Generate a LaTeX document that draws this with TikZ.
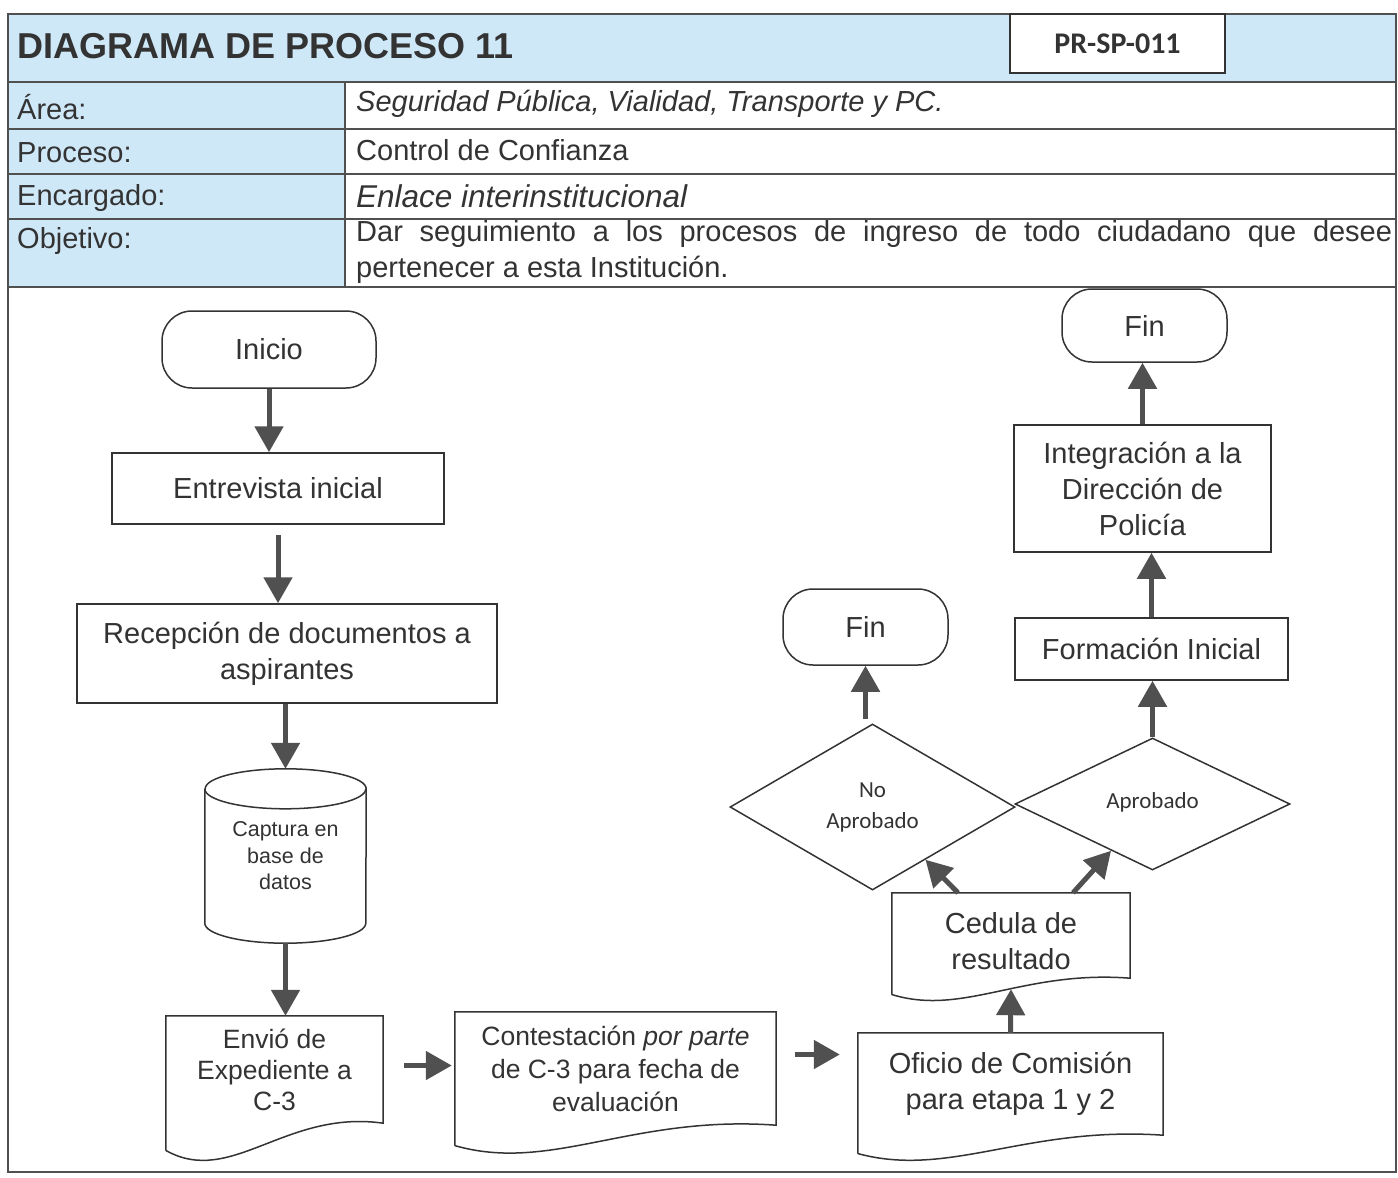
\documentclass[tikz,border=0pt]{standalone}
\usepackage{fontspec}
\setmainfont{Liberation Sans}
\newfontfamily\calib{Carlito}
\usetikzlibrary{shapes.geometric,arrows.meta,calc}
\definecolor{hdrblue}{HTML}{CFE8F8}
\definecolor{ink}{HTML}{333333}
\definecolor{arrgray}{HTML}{505050}
\definecolor{framegray}{HTML}{505050}
\tikzset{
  shapeline/.style={draw=ink, line width=1.5pt},
  tline/.style={draw=framegray, line width=2pt},
  txt/.style={text=ink, inner sep=0pt},
  lbl/.style={txt, anchor=west, font=\fontsize{29}{34}\selectfont},
  procbox/.style={shapeline, text=ink, inner sep=0pt, align=center, font=\fontsize{29}{36}\selectfont},
  termbox/.style={procbox, rounded corners=30pt},
  docbox/.style={text=ink, inner sep=0pt, align=center},
  decis/.style={shapeline, diamond, inner sep=0pt, text=ink, align=center, font=\calib\fontsize{23}{31}\selectfont},
  arr/.style={draw=arrgray, line width=5pt, -{Triangle[width=28pt,length=26pt]}},
}
\newcommand\docshape[2]{%
  \draw[shapeline] ([yshift=-0.68*#2]#1.south west) -- (#1.north west) -- (#1.north east) -- (#1.south east)
  .. controls ($(#1.south west)!0.55!(#1.south east)+(0,0.35*#2)$) and ($(#1.south west)!0.3!(#1.south east)+(0,-1.6*#2)$) .. ([yshift=-0.68*#2]#1.south west);}
\begin{document}
\begin{tikzpicture}[x=1pt,y=-1pt]
\useasboundingbox (0,0) rectangle (1398,1178);
\fill[white] (0,0) rectangle (1398,1178);
% header and table
\fill[hdrblue] (8,14) rectangle (1396,82);
\fill[hdrblue] (8,82) rectangle (345,287);
\foreach \yy in {82,129,174,219,287} {\draw[tline] (8,\yy) -- (1396,\yy);}
\draw[tline] (345,82) -- (345,287);
\draw[tline] (8,14) rectangle (1396,1172);
\node[txt, anchor=west, font=\bfseries\fontsize{36}{40}\selectfont] (title) at (17,46) {DIAGRAMA DE PROCESO 11};
\node[draw=ink, line width=1.5pt, fill=white, minimum width=215, minimum height=59, text=ink, font=\calib\bfseries\fontsize{30}{34}\selectfont] (code) at (1117.5,43.5) {PR-SP-011};
\node[lbl] (larea) at (17,107) {Área:};
\node[lbl] (lproc) at (17,153) {Proceso:};
\node[lbl] (lenc) at (17,198) {Encargado:};
\node[lbl] (lobj) at (17,241) {Objetivo:};
\node[lbl, font=\itshape\fontsize{29}{34}\selectfont] (varea) at (356,104) {Seguridad Pública, Vialidad, Transporte y PC.};
\node[lbl] (vproc) at (356,150) {Control de Confianza};
\node[lbl, font=\itshape\fontsize{31.5}{36}\selectfont] (venc) at (356,196) {Enlace interinstitucional};
\node[lbl] (vobj1) at (356,234) {\hbox to 1036pt{Dar seguimiento a los procesos de ingreso de todo ciudadano que desee}};
\node[lbl] (vobj2) at (356,270) {pertenecer a esta Institución.};
% left column
\node[termbox, minimum width=214, minimum height=77] (inicio) at (269,349.5) {Inicio};
\node[procbox, minimum width=332, minimum height=71] (entre) at (278,488.5) {Entrevista inicial};
\node[procbox, minimum width=420, minimum height=99] (rec) at (287,653.5) {Recepción de documentos a\\aspirantes};
\node[txt, minimum width=161, minimum height=174, align=center, font=\fontsize{21.5}{26.5}\selectfont] (cyl) at (285.5,856) {Captura en\\base de\\datos};
\draw[shapeline] ([yshift=-20pt]cyl.north west) -- ([yshift=20pt]cyl.south west)
  arc[start angle=180, end angle=360, x radius=80.5pt, y radius=20pt]
  -- ([yshift=-20pt]cyl.north east)
  arc[start angle=0, end angle=180, x radius=80.5pt, y radius=20pt];
\draw[shapeline] ([yshift=-20pt]cyl.north west) arc[start angle=180, end angle=360, x radius=80.5pt, y radius=20pt];
\node[docbox, minimum width=217, minimum height=107, font=\fontsize{26.5}{31}\selectfont] (envio) at (274.5,1069.5) {Envió de\\Expediente a\\C-3};
\docshape{envio}{40pt}
\node[docbox, minimum width=321, minimum height=113, font=\fontsize{26.5}{33}\selectfont] (cont) at (615.5,1068.5) {Contestación \textit{por parte}\\de C-3 para fecha de\\evaluación};
\docshape{cont}{30pt}
\node[docbox, minimum width=305, minimum height=102, font=\fontsize{29}{36}\selectfont] (ofi) at (1010.5,1084) {Oficio de Comisión\\para etapa 1 y 2};
\docshape{ofi}{27pt}
\node[docbox, minimum width=238, minimum height=85, font=\fontsize{29}{36}\selectfont] (ced) at (1011,935.5) {\raisebox{-6pt}[\height][\depth]{Cedula de}\\\raisebox{-6pt}[\height][\depth]{resultado}};
\docshape{ced}{24pt}
% right side
\node[decis, minimum width=285, minimum height=166] (noap) at (872.5,807) {No\\Aprobado};
\node[decis, minimum width=275, minimum height=132] (ap) at (1152.5,804) {\raisebox{7pt}{Aprobado}};
\node[termbox, minimum width=165, minimum height=76] (fin1) at (865.5,627) {Fin};
\node[procbox, minimum width=273, minimum height=62] (form) at (1151.5,649) {Formación Inicial};
\node[procbox, minimum width=257, minimum height=127] (integ) at (1142.5,488.5) {Integración a la\\Dirección de\\Policía};
\node[termbox, minimum width=165, minimum height=73] (fin2) at (1144.5,325.5) {Fin};
% connectors
\draw[arr] (inicio.south) -- (inicio.south |- entre.north);
\draw[arr, shorten <=10pt] (entre.south) -- (entre.south |- rec.north);
\draw[arr] (cyl.north |- rec.south) -- (cyl.north);
\draw[arr] (cyl.south) -- (cyl.south |- envio.north);
\draw[arr, shorten <=21pt, shorten >=3pt] ([yshift=4pt]envio.east) -- ([yshift=4pt]envio.east -| cont.west);
\coordinate (c1) at ([yshift=14pt]cont.east);
\draw[arr, shorten <=19pt, shorten >=18pt] (c1) -- (c1 -| ofi.west);
\draw[arr] (ofi.north) -- ([yshift=-11pt]ced.south);
\draw[arr] ([xshift=-53pt]ced.north) -- ($(noap.south)!0.37!(noap.east)$);
\draw[arr] ([xshift=62pt]ced.north) -- ($(ap.west)!0.7!(ap.south)$);
\draw[arr, shorten <=4pt] (fin1.south |- noap.north) -- (fin1.south);
\draw[arr] (ap.north) -- (ap.north |- form.south);
\draw[arr] (form.north) -- (form.north |- integ.south);
\draw[arr] (integ.north) -- (integ.north |- fin2.south);
\end{tikzpicture}
\end{document}
